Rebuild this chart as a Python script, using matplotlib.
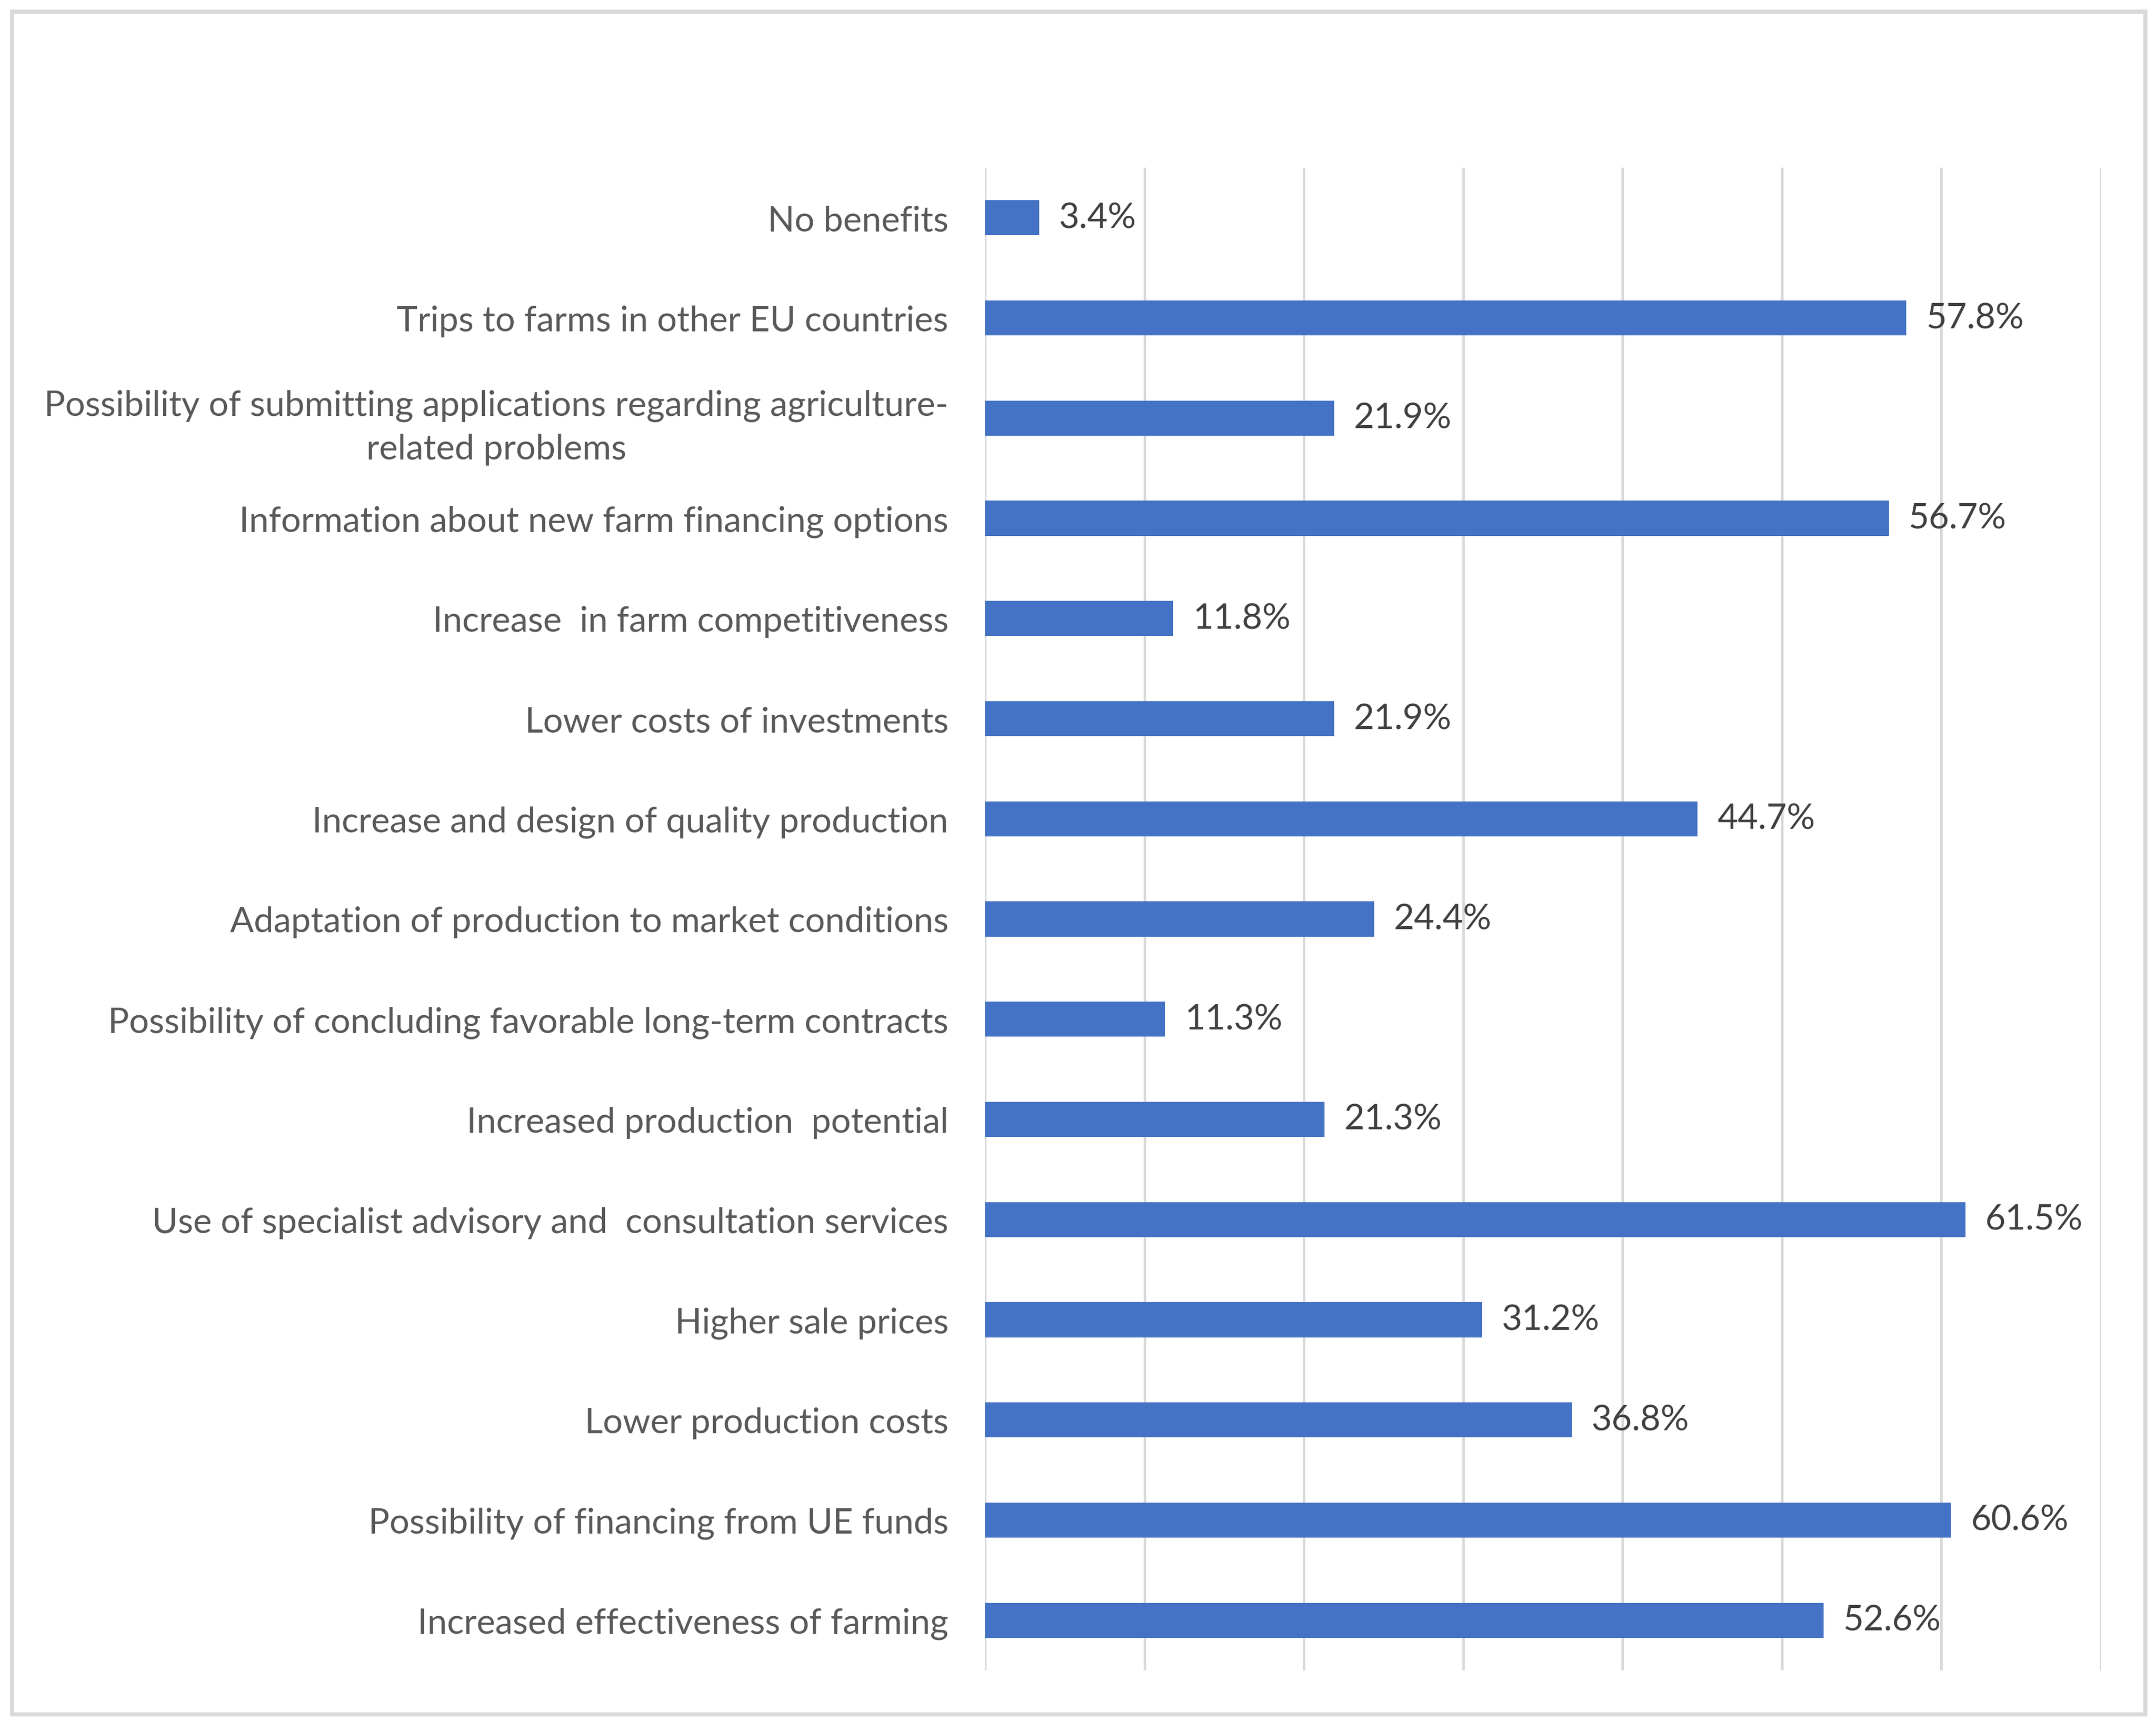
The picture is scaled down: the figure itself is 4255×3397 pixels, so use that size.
import matplotlib
matplotlib.use("Agg")
import matplotlib.pyplot as plt
from matplotlib.patches import Rectangle
import numpy as np

categories = [
    "No benefits",
    "Trips to farms in other EU countries",
    "Possibility of submitting applications regarding agriculture-\nrelated problems",
    "Information about new farm financing options",
    "Increase  in farm competitiveness",
    "Lower costs of investments",
    "Increase and design of quality production",
    "Adaptation of production to market conditions",
    "Possibility of concluding favorable long-term contracts",
    "Increased production  potential",
    "Use of specialist advisory and  consultation services",
    "Higher sale prices",
    "Lower production costs",
    "Possibility of financing from UE funds",
    "Increased effectiveness of farming",
]
values = [3.4, 57.8, 21.9, 56.7, 11.8, 21.9, 44.7, 24.4, 11.3, 21.3, 61.5, 31.2, 36.8, 60.6, 52.6]
x_ticks = [0, 10, 20, 30, 40, 50, 60, 70]

plt.rcParams['font.family'] = ['Lato', 'DejaVu Sans']

W, H = 4255, 3398
dpi = 200
fig = plt.figure(figsize=(W / dpi, H / dpi), dpi=dpi)
fig.patch.set_facecolor("white")

ax = fig.add_axes([1944 / W, 1 - 3298 / H, (4146 - 1944) / W, (3298 - 332) / H])

y = np.arange(len(categories))
bars = ax.barh(y, values, height=0.35, color="#4472C4", zorder=3)
ax.set_ylim(len(categories) - 0.5, -0.5)
ax.set_xlim(0, 70)
ax.set_xticks(x_ticks)
ax.set_xticklabels([])
ax.grid(axis="x", color="#d9d9d9", linewidth=1.8, zorder=0)
ax.tick_params(axis="x", length=0)
ax.set_yticks(y)
ax.set_yticklabels(categories, fontsize=25, color="#595959",
                   multialignment="center", linespacing=1.45)
ax.tick_params(axis="y", length=0, pad=26)
for s in ax.spines.values():
    s.set_visible(False)

ax.bar_label(bars, labels=[f"{v:.1f}%" for v in values], padding=14,
             fontsize=25, color="#404040")

fig.patches.append(Rectangle((24 / W, 1 - 3385 / H), (4234 - 24) / W, (3385 - 24) / H,
                             transform=fig.transFigure, fill=False,
                             edgecolor="#d9d9d9", linewidth=2.9))

fig.savefig("out.png", dpi=dpi, facecolor="white")
